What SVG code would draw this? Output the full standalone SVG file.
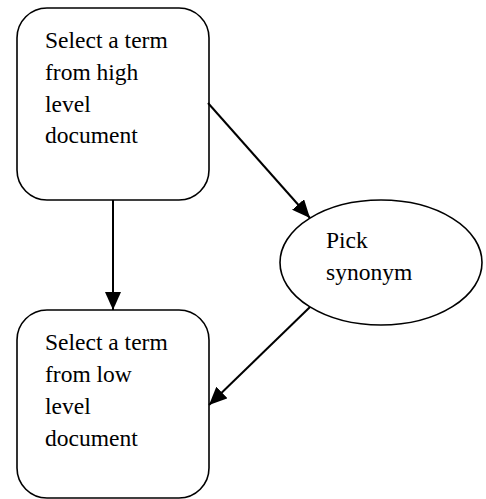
<svg xmlns="http://www.w3.org/2000/svg" width="486" height="499" viewBox="0 0 486 499">
<style>
.shape{fill:#fff;stroke:#000;stroke-width:1.6}
.conn{stroke:#000;stroke-width:2;fill:none}
</style>
<defs>
<marker id="arr" viewBox="0 0 18 16" refX="18" refY="8" markerWidth="18" markerHeight="16" markerUnits="userSpaceOnUse" orient="auto">
<path d="M0,0 L18,8 L0,16 z" fill="#000"/>
</marker>
</defs>
<rect width="486" height="499" fill="#fff"/>
<g id="node-high">
<rect class="shape" x="17" y="8" width="192" height="192" rx="30" ry="30"/>
<text x="45" y="48" style="font-family:'Liberation Serif',serif;font-size:23.5px">Select a term</text>
<text x="45" y="80" style="font-family:'Liberation Serif',serif;font-size:23.5px">from high</text>
<text x="45" y="112" style="font-family:'Liberation Serif',serif;font-size:23.5px">level</text>
<text x="45" y="143" style="font-family:'Liberation Serif',serif;font-size:23.5px">document</text>
</g>
<g id="node-low">
<rect class="shape" x="17" y="310" width="192" height="188" rx="30" ry="30"/>
<text x="45" y="350" style="font-family:'Liberation Serif',serif;font-size:23.5px">Select a term</text>
<text x="45" y="382" style="font-family:'Liberation Serif',serif;font-size:23.5px">from low</text>
<text x="45" y="414" style="font-family:'Liberation Serif',serif;font-size:23.5px">level</text>
<text x="45" y="446" style="font-family:'Liberation Serif',serif;font-size:23.5px">document</text>
</g>
<g id="node-synonym">
<ellipse class="shape" cx="381" cy="262.5" rx="101" ry="62.5"/>
<text x="326" y="248" style="font-family:'Liberation Serif',serif;font-size:23.5px">Pick</text>
<text x="326" y="280" style="font-family:'Liberation Serif',serif;font-size:23.5px">synonym</text>
</g>
<g id="connectors">
<line class="conn" x1="113" y1="200" x2="113" y2="310" marker-end="url(#arr)"/>
<line class="conn" x1="208" y1="103" x2="310" y2="218" marker-end="url(#arr)"/>
<line class="conn" x1="310" y1="307" x2="209" y2="405" marker-end="url(#arr)"/>
</g>
</svg>
